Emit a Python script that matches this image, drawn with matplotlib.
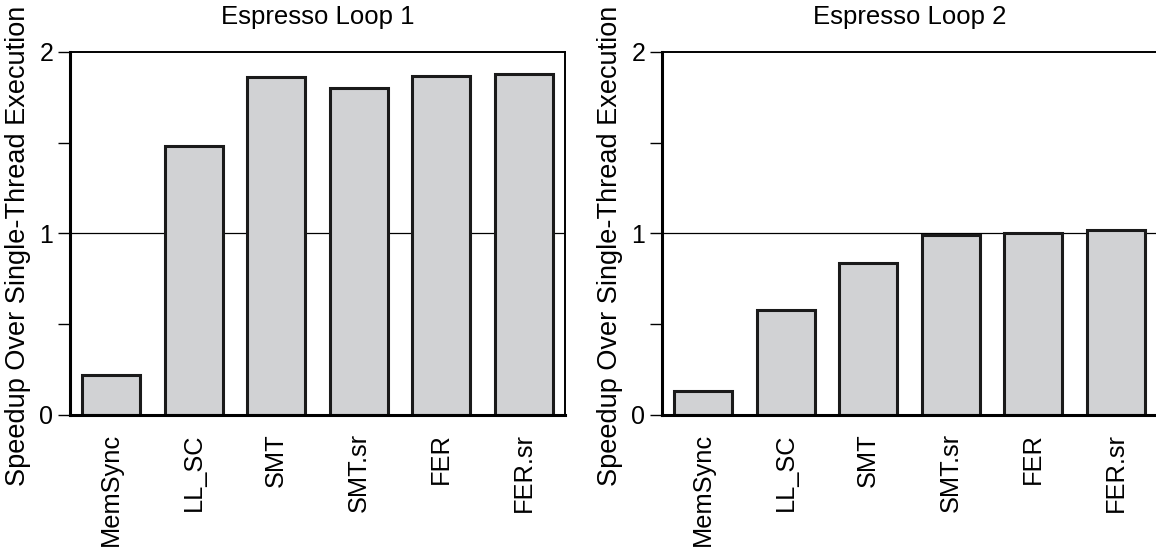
import numpy as np
import matplotlib.pyplot as plt

plt.rcParams['font.family'] = ['Liberation Sans', 'DejaVu Sans']

schemes = ['MemSync', 'LL_SC', 'SMT', 'SMT.sr', 'FER', 'FER.sr']
loop1_speedup = [0.22, 1.48, 1.86, 1.80, 1.87, 1.88]
loop2_speedup = [0.13, 0.58, 0.84, 0.99, 1.005, 1.02]
titles = ['Espresso Loop 1', 'Espresso Loop 2']

fig = plt.figure(figsize=(11.56, 5.56), dpi=100)
ax1 = fig.add_axes([0.0606, 0.2536, 0.4282, 0.6529])
ax2 = fig.add_axes([0.5727, 0.2536, 0.4282, 0.6529])


def draw_panel(ax, values, title):
    x = np.arange(len(schemes))
    ax.axhline(1.0, color='black', lw=0.9, zorder=1)
    ax.bar(x, values, width=0.7, color='#d1d2d4', edgecolor='#1a1a1a',
           linewidth=2.2, zorder=2)
    ax.set_xlim(-0.5, len(schemes) - 0.5)
    ax.set_ylim(0, 2)
    ax.set_yticks([0, 1, 2])
    ax.set_yticks([0.5, 1.5], minor=True)
    ax.tick_params(axis='y', which='both', direction='out', length=9,
                   width=1, labelsize=18, pad=3)
    ax.set_xticks(x)
    ax.set_xticklabels(schemes, rotation=90, fontsize=18.3)
    ax.tick_params(axis='x', length=0, pad=13)
    for side in ['left', 'bottom']:
        ax.spines[side].set_linewidth(2.2)
    for side in ['top', 'right']:
        ax.spines[side].set_linewidth(1.4)
    ax.set_title(title, fontsize=18.5, pad=20)
    ax.set_ylabel('Speedup Over Single-Thread Execution', fontsize=19.5)
    ax.yaxis.set_label_coords(-0.079, 0.466)


draw_panel(ax1, loop1_speedup, titles[0])
draw_panel(ax2, loop2_speedup, titles[1])

fig.savefig('out.png', dpi=100)
